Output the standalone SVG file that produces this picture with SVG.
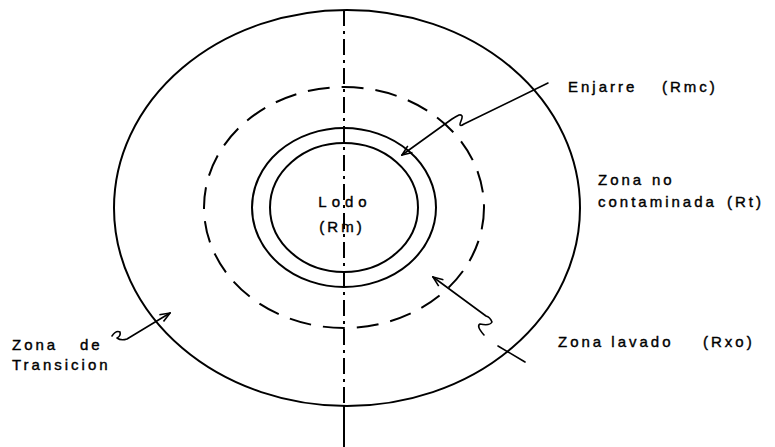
<svg xmlns="http://www.w3.org/2000/svg" width="775" height="447" viewBox="0 0 775 447">
<defs>
<style>
.ln{fill:none;stroke:#000;stroke-width:2}
.dash{fill:none;stroke:#000;stroke-width:2;stroke-dasharray:22 12}
.axis{fill:none;stroke:#000;stroke-width:2;stroke-dasharray:16 5 3 5}
.ptr{fill:none;stroke:#000;stroke-width:1.6;stroke-linecap:round;stroke-linejoin:round}
.t{font-family:"Liberation Sans",Arial,sans-serif;font-size:15px;letter-spacing:3px;fill:#000;stroke:#000;stroke-width:0.4}
</style>
<marker id="ah" viewBox="0 0 12 10" refX="11" refY="5" markerWidth="12" markerHeight="10" markerUnits="userSpaceOnUse" orient="auto">
<path d="M1,1 L11,5 L1,9" fill="none" stroke="#000" stroke-width="1.6"/>
</marker>
</defs>
<rect width="775" height="447" fill="#fff"/>
<g id="zona-transicion-circle"><ellipse class="ln" cx="347" cy="208" rx="233" ry="198"/></g>
<g id="zona-lavada-circle"><ellipse class="dash" cx="344" cy="207.5" rx="140" ry="120.5"/></g>
<g id="enjarre-circle"><ellipse class="ln" cx="344" cy="207.5" rx="92" ry="79.5"/></g>
<g id="lodo-circle"><ellipse class="ln" cx="344" cy="207.5" rx="74" ry="64.5"/></g>
<g id="axis">
<line class="axis" x1="344" y1="10" x2="344" y2="406"/>
<line class="ln" x1="344" y1="406" x2="344" y2="447"/>
</g>
<g id="lodo">
<text class="t" x="345" y="207" text-anchor="middle" style="letter-spacing:5px">Lodo</text>
<text class="t" x="342" y="232" text-anchor="middle">(Rm)</text>
</g>
<g id="enjarre">
<text class="t" x="568" y="92">Enjarre</text>
<text class="t" x="662" y="92">(Rmc)</text>
</g>
<g id="zona-no-contaminada">
<text class="t" x="598" y="185">Zona<tspan x="652">no</tspan></text>
<text class="t" x="598" y="207">contaminada<tspan x="727">(Rt)</tspan></text>
</g>
<g id="zona-lavada">
<text class="t" x="558" y="347">Zona lavado<tspan x="703">(Rxo)</tspan></text>
</g>
<g id="zona-transicion">
<text class="t" x="12" y="350">Zona<tspan x="80">de</tspan></text>
<text class="t" x="12" y="370">Transicion</text>
</g>
<g id="connectors">
<path class="ptr" marker-end="url(#ah)" d="M548,83 L464,124 Q458,128 461,121 Q464,114 459,115 Q455,117 452,119 L402,155"/>
<path class="ptr" marker-end="url(#ah)" d="M484,335 Q476,326 480,324 Q490,326 492,322 Q490,317 486,316 L433,277"/>
<path class="ptr" marker-end="url(#ah)" d="M112,336 Q116,330 120,332 Q121,336 117,338 Q121,341 127,339 L170,313"/>
<line class="ptr" x1="498" y1="346" x2="525" y2="362"/>
</g>
</svg>
